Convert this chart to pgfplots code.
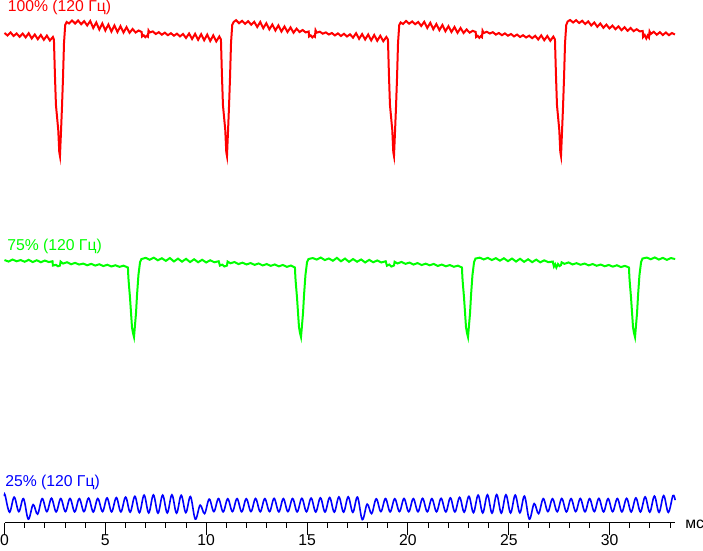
\documentclass[border=0pt]{standalone}
\usepackage{fontspec}
\setmainfont{Liberation Sans}
\usepackage{pgfplots}
\pgfplotsset{compat=1.18}
\definecolor{cred}{RGB}{255,0,0}
\definecolor{cgreen}{RGB}{0,255,0}
\definecolor{cblue}{RGB}{0,0,255}
\begin{document}
\begin{tikzpicture}
\begin{axis}[
  scale only axis, width=502.9pt, height=391.9pt,
  xmin=0, xmax=33.25, ymin=-1.5, ymax=521,
  axis x line*=bottom, hide y axis,
  axis line style={black, line width=0.75pt},
  xtick={0,5,...,30}, minor xtick={0,...,33},
  xtick align=outside,
  major tick length=9pt, minor tick length=3.75pt,
  tick style={black, line width=0.75pt},
  /pgf/number format/assume math mode=true,
  xticklabel style={font=\fontsize{11.8}{14}\selectfont, inner sep=0pt},
  clip=false,
]
% red 100%
\addplot[cred, line width=1.5pt] coordinates {
(0,488) (0.15,485.5) (0.30,488.6) (0.45,485) (0.60,487.5) (0.75,484.2) (0.90,487.4) (1.05,483.6) (1.20,487.8) (1.35,482.5) (1.50,486.5) (1.65,481.8) (1.80,486) (1.95,481.2) (2.10,485.4) (2.25,480.5) (2.40,484) (2.45,481.5)
(2.50,446) (2.55,416) (2.665,391) (2.715,369) (2.75,365) (2.80,389) (2.85,414) (2.90,443) (2.95,478) (3.01,496)
(3.08,499) (3.20,497.5) (3.35,500.5) (3.50,497.5) (3.65,500.5) (3.80,496.8) (3.95,499.8) (4.10,495.5) (4.25,500) (4.40,493) (4.55,498.5) (4.70,491.5) (4.85,497.5) (5.00,490.5) (5.15,496.5) (5.30,489.5) (5.45,495.5) (5.60,489) (5.75,494.8) (5.90,488.5) (6.05,493.8) (6.20,488.2) (6.35,492) (6.50,488.5) (6.65,490.5) (6.80,489)
(6.82,484.5) (6.90,485.8) (6.98,483.8) (7.05,485.2) (7.11,484.3) (7.14,490.5) (7.20,488.5)
(7.35,489.6) (7.50,487) (7.65,488.8) (7.80,486.3) (7.95,488.3) (8.10,485.8) (8.25,487.8) (8.40,485.3) (8.55,487.3) (8.70,484.6) (8.85,487) (9.00,483) (9.15,487.5) (9.30,482) (9.45,487.2) (9.60,481.2) (9.75,486.8) (9.90,480.8) (10.05,486.4) (10.20,480) (10.35,485.6) (10.50,479.6) (10.65,484.5) (10.73,481.5)
(10.78,446) (10.83,416) (10.945,391) (10.995,369) (11.03,365) (11.08,389) (11.13,414) (11.18,443) (11.23,478) (11.29,496)
(11.36,499) (11.48,500.8) (11.63,497.8) (11.78,500.2) (11.93,497.2) (12.08,499.8) (12.23,496.3) (12.38,499.2) (12.53,494) (12.68,499) (12.83,492.8) (12.98,497.8) (13.13,491.6) (13.28,496.5) (13.43,490.5) (13.58,495.6) (13.73,489.5) (13.88,494.5) (14.03,489) (14.18,493.6) (14.33,488.3) (14.48,492.3) (14.63,489) (14.78,491) (14.93,488.6) (15.08,489.5)
(15.10,484.5) (15.18,485.6) (15.26,483.6) (15.33,485) (15.39,484.2) (15.42,490.8) (15.48,488.3)
(15.63,489.3) (15.78,487.3) (15.93,488.6) (16.08,486.5) (16.23,488) (16.38,485.6) (16.53,487.6) (16.68,485) (16.83,487.2) (16.98,484.5) (17.13,486.7) (17.28,483.3) (17.43,487.8) (17.58,482.2) (17.73,486.9) (17.88,481.5) (18.03,486.5) (18.18,480.6) (18.33,486) (18.48,480.2) (18.63,485.2) (18.78,479.8) (18.93,484) (19.01,481.5)
(19.06,446) (19.11,416) (19.225,391) (19.275,369) (19.31,365) (19.36,389) (19.41,414) (19.46,443) (19.51,478) (19.57,496)
(19.64,498.5) (19.76,497) (19.91,500) (20.06,497.3) (20.21,499.5) (20.36,496.8) (20.51,499) (20.66,495) (20.81,499.2) (20.96,493) (21.11,498.2) (21.26,491.8) (21.41,497) (21.56,490.8) (21.71,496) (21.86,489.8) (22.01,494.8) (22.16,489) (22.31,494) (22.46,488.2) (22.61,493) (22.76,488) (22.91,491.5) (23.06,488.3) (23.21,490.2) (23.36,489)
(23.38,484) (23.46,485.2) (23.54,483.2) (23.61,484.8) (23.67,483.8) (23.70,490.3) (23.76,488)
(23.91,489.2) (24.06,487.5) (24.21,488.8) (24.36,486.4) (24.51,488) (24.66,485.8) (24.81,487.6) (24.96,485.3) (25.11,487) (25.26,484.6) (25.41,486.4) (25.56,484) (25.71,485.8) (25.86,483.5) (26.01,485.3) (26.16,482.8) (26.31,485.2) (26.46,481.5) (26.61,485.6) (26.76,480.8) (26.91,485) (27.06,480.2) (27.21,484.4) (27.29,481.5)
(27.34,446) (27.39,416) (27.505,391) (27.555,369) (27.59,365) (27.64,389) (27.69,414) (27.74,443) (27.79,478) (27.85,496)
(27.92,499.5) (28.04,501) (28.19,498.5) (28.34,500.8) (28.49,498) (28.64,500.2) (28.79,497) (28.94,499.6) (29.09,495.5) (29.24,498.5) (29.39,494.2) (29.54,497.5) (29.69,493.2) (29.84,496.4) (29.99,492.6) (30.14,495.4) (30.29,491.8) (30.44,494.6) (30.59,490.8) (30.74,493.8) (30.89,490.2) (31.04,493) (31.19,489.8) (31.34,491.8) (31.49,489.6) (31.64,490)
(31.66,484) (31.74,486) (31.82,482.5) (31.89,485.5) (31.95,483.5) (31.98,489.5) (32.04,487)
(32.19,489.2) (32.34,486.3) (32.49,488.8) (32.64,486) (32.79,488.5) (32.94,485.8) (33.09,488) (33.24,486.5)
};
% green 75%
\addplot[cgreen, line width=1.5pt] coordinates {
(0,261) (0.2,259.5) (0.4,261.5) (0.6,259.8) (0.8,261) (1.0,259.3) (1.2,261.2) (1.4,259) (1.6,260.8) (1.8,258.8) (2.0,260.5) (2.2,259) (2.38,259.8)
(2.40,255.5) (2.55,256.2) (2.65,254.8) (2.75,255.5) (2.78,259.5)
(2.90,257.5) (3.10,258.8) (3.30,256.8) (3.50,258.2) (3.70,256.5) (3.90,257.5) (4.10,255.8) (4.30,257.2) (4.50,255.5) (4.70,256.8) (4.90,255) (5.10,256.3) (5.30,254.6) (5.50,255.8) (5.70,254.2) (5.90,255.4) (6.12,253.5)
(6.14,244) (6.17,236) (6.22,224) (6.27,209) (6.32,194) (6.37,188) (6.42,184) (6.47,196) (6.52,208) (6.57,226) (6.64,246) (6.72,259)
(6.79,262) (7.00,263.2) (7.20,261.3) (7.40,263.4) (7.60,260.8) (7.80,262.8) (8.00,260.2) (8.20,263) (8.40,259.6) (8.60,262.4) (8.80,259.4) (9.00,262.2) (9.20,259) (9.40,261.8) (9.60,258.8) (9.80,261.3) (10.00,258.6) (10.20,260.8) (10.40,258.8) (10.62,259.8)
(10.68,255.5) (10.80,256.4) (10.90,254.6) (11.03,255.5) (11.06,259.5)
(11.20,257.8) (11.40,259) (11.60,257) (11.80,258.4) (12.00,256.6) (12.20,258) (12.40,256.2) (12.60,257.6) (12.80,255.6) (13.00,257) (13.20,255.2) (13.40,256.6) (13.60,254.7) (13.80,256.1) (14.00,254.2) (14.20,255.5) (14.40,253.5)
(14.42,244) (14.45,236) (14.50,224) (14.55,209) (14.60,194) (14.65,188) (14.70,184) (14.75,196) (14.80,208) (14.85,226) (14.92,246) (15.00,259)
(15.07,262) (15.28,263) (15.48,261.5) (15.68,263.5) (15.88,261) (16.08,262.6) (16.28,260.3) (16.48,263.2) (16.68,259.8) (16.88,262.5) (17.08,259.2) (17.28,262) (17.48,259.3) (17.68,261.6) (17.88,258.6) (18.08,261.2) (18.28,258.8) (18.48,260.6) (18.68,258.6) (18.90,259.8)
(18.96,255.3) (19.08,256.5) (19.18,254.5) (19.31,255.6) (19.34,259.3)
(19.48,257.6) (19.68,259.1) (19.88,257.2) (20.08,258.5) (20.28,256.5) (20.48,258) (20.68,256) (20.88,257.4) (21.08,255.8) (21.28,257.1) (21.48,255.1) (21.68,256.5) (21.88,254.8) (22.08,256) (22.28,254.3) (22.48,255.4) (22.68,253.5)
(22.70,244) (22.73,236) (22.78,224) (22.83,209) (22.88,194) (22.93,188) (22.98,184) (23.03,196) (23.08,208) (23.13,226) (23.20,246) (23.28,259)
(23.35,262.5) (23.56,263.4) (23.76,261.6) (23.96,263.2) (24.16,261) (24.36,262.9) (24.56,260.4) (24.76,262.8) (24.96,259.9) (25.16,262.5) (25.36,259.5) (25.56,262.3) (25.76,259.2) (25.96,261.8) (26.16,258.9) (26.36,261.4) (26.56,258.7) (26.76,260.7) (26.96,258.9) (27.18,259.5)
(27.24,254.5) (27.30,256.8) (27.36,253.5) (27.44,257) (27.52,255) (27.59,256) (27.62,258.8)
(27.76,257.2) (27.96,258.6) (28.16,256.6) (28.36,257.9) (28.56,256.3) (28.76,257.5) (28.96,255.7) (29.16,257) (29.36,255.3) (29.56,256.5) (29.76,254.8) (29.96,256.1) (30.16,254.4) (30.36,255.8) (30.56,254) (30.76,255.2) (30.96,253.5)
(30.98,244) (31.01,236) (31.06,224) (31.11,209) (31.16,194) (31.21,188) (31.26,184) (31.31,196) (31.36,208) (31.41,226) (31.48,246) (31.56,259)
(31.63,262.5) (31.84,263.5) (32.04,261.8) (32.24,263.6) (32.44,261.5) (32.64,263.2) (32.84,261.2) (33.04,263) (33.25,262)
};
% blue 25%
\addplot[cblue, line width=1.2pt, smooth, tension=0.6] coordinates {
(0,25) (0.03,26) (0.25,9) (0.48,24) (0.71,9.5) (0.94,22.5) (1.18,2) (1.42,16.5) (1.64,7)
(1.870,22.5) (2.10,9.5) (2.329,22.8) (2.56,9.3) (2.789,22.5) (3.02,9.5) (3.248,22.7) (3.48,9.3) (3.707,22.5) (3.94,9.5) (4.167,23) (4.40,9.2) (4.626,22.6) (4.86,9.5) (5.085,23.2) (5.31,9.3) (5.544,23.5) (5.77,9.2) (6.004,24) (6.23,9) (6.463,24.8) (6.69,8.5) (6.922,26) (7.15,8.2) (7.382,26.2) (7.61,8) (7.841,26) (8.07,8.2) (8.300,26.3) (8.53,8) (8.760,25.8) (8.99,8.5) (9.219,24.5)
(9.46,2) (9.70,16) (9.92,7.5)
(10.150,22) (10.38,9.5) (10.609,22.5) (10.84,9.3) (11.069,22.3) (11.30,9.5) (11.528,22.5) (11.76,9.3) (11.987,22.4) (12.22,9.5) (12.447,22.6) (12.68,9.4) (12.906,22.5) (13.14,9.5) (13.365,22.7) (13.60,9.3) (13.824,22.5) (14.05,9.5) (14.284,22.6) (14.51,9.3) (14.743,22.8) (14.97,9.4) (15.202,23) (15.43,9.2) (15.662,23.3) (15.89,9.2) (16.121,23.6) (16.35,9) (16.580,24.2) (16.81,9) (17.040,24.3) (17.27,8.8) (17.499,24)
(17.74,1.5) (17.98,17) (18.20,7.5)
(18.430,22.3) (18.66,9.5) (18.889,22.5) (19.12,9.3) (19.349,22.4) (19.58,9.5) (19.808,22.6) (20.04,9.3) (20.267,22.5) (20.50,9.4) (20.727,22.7) (20.96,9.3) (21.186,22.5) (21.42,9.4) (21.645,22.8) (21.88,9.2) (22.104,23.2) (22.33,9.2) (22.564,23.8) (22.79,9) (23.023,24.8) (23.25,8.5) (23.482,26) (23.71,8.2) (23.942,26.3) (24.17,8) (24.401,26.5) (24.63,8) (24.860,26.3) (25.09,8.2) (25.320,26) (25.55,8.3) (25.779,25)
(26.02,2) (26.26,17.5) (26.48,7.5)
(26.710,22.5) (26.94,9.5) (27.169,22.4) (27.40,9.4) (27.629,22.6) (27.86,9.3) (28.088,22.5) (28.32,9.5) (28.547,22.6) (28.78,9.3) (29.007,22.5) (29.24,9.5) (29.466,22.7) (29.70,9.3) (29.925,22.5) (30.15,9.4) (30.384,22.6) (30.61,9.3) (30.844,22.8) (31.07,9.2) (31.303,23.2) (31.53,9.2) (31.762,24.2) (31.99,9) (32.222,25) (32.45,8.8) (32.681,25.5) (32.91,8.8) (33.140,25.5) (33.25,21)
};
\node[anchor=base west, inner sep=0pt, text=cred, font=\fontsize{11.8}{14}\selectfont] at (axis cs:0.15,509.3) {100\% (120 Гц)};
\node[anchor=base west, inner sep=0pt, text=cgreen, font=\fontsize{11.8}{14}\selectfont] at (axis cs:0.124,270.3) {75\% (120 Гц)};
\node[anchor=base west, inner sep=0pt, text=cblue, font=\fontsize{11.8}{14}\selectfont] at (axis cs:0.025,34.3) {25\% (120 Гц)};
\node[anchor=base west, inner sep=0pt, font=\fontsize{11.8}{14}\selectfont] at (axis cs:33.74,-7) {мс};
\coordinate (bbsw) at (axis cs:-0.2232,-29);
\coordinate (bbne) at (axis cs:34.63,521);
\end{axis}
\pgfresetboundingbox
\path[use as bounding box] (bbsw) rectangle (bbne);
\end{tikzpicture}
\end{document}
